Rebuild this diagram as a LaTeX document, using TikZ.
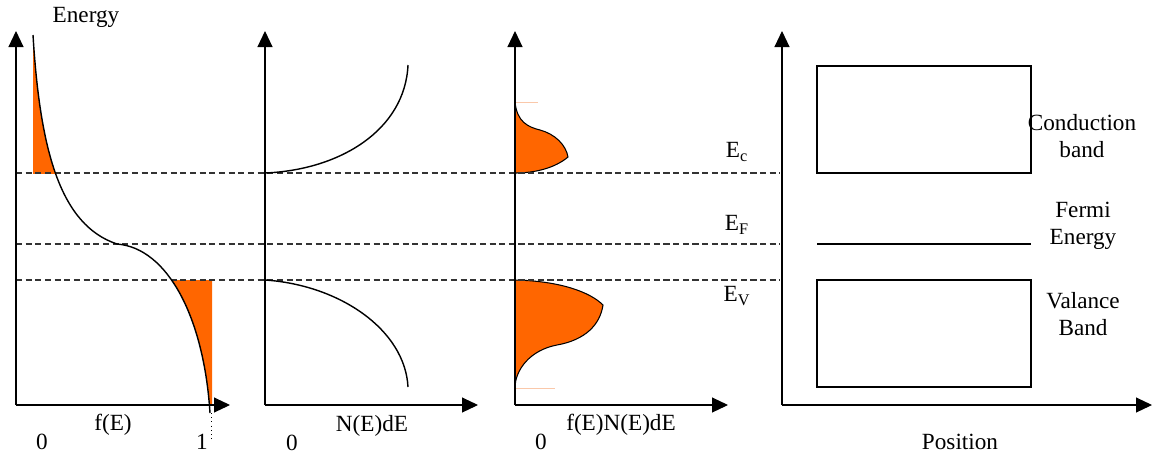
\documentclass[tikz,border=0pt]{standalone}
\usepackage{fontspec}
\newfontfamily\plotfont{LiberationSerif-Regular.ttf}
\definecolor{bandorange}{RGB}{255,102,0}
\definecolor{faintorange}{RGB}{250,200,170}
\usetikzlibrary{arrows.meta}

\begin{document}
\begin{tikzpicture}[x=0.02cm, y=-0.02cm,
  axis/.style={line width=0.6pt, -{Triangle[length=0.32cm, width=0.3cm]}},
  level/.style={dash pattern=on 3.5pt off 2pt, line width=0.6pt, black!80},
  curve/.style={line width=0.8pt},
  occupied/.style={fill=bandorange},
  lbl/.style={font=\plotfont\fontsize{13.2}{15.3}\selectfont, inner sep=0pt, align=center}
]
  \useasboundingbox (0,0) rectangle (1152,454);

  % origins of the four panels
  \coordinate (o1) at (16,405);
  \coordinate (o2) at (265,405);
  \coordinate (o3) at (515,405);
  \coordinate (o4) at (782,405);
  \coordinate (t1) at (16,31);
  \coordinate (t2) at (265,31);
  \coordinate (t3) at (515,31);
  \coordinate (t4) at (782,31);
  \coordinate (r1) at (230,405);
  \coordinate (r2) at (478,405);
  \coordinate (r3) at (728,405);
  \coordinate (r4) at (1152,405);

  % f(E) shading
  \begin{scope}
    \clip (16,31) rectangle (260,173);
    \fill[occupied] (33,35) .. controls (40,150) and (60,225) .. (117,244) -- (33,244) -- cycle;
  \end{scope}
  \begin{scope}
    \clip (16,280) rectangle (260,405);
    \fill[occupied] (117,244) .. controls (168,248) and (204,318) .. (210,413) -- (212,413) -- (212,244) -- cycle;
  \end{scope}

  % f(E)N(E)dE shading
  \fill[occupied, draw=black, line width=0.6pt] (515,102) .. controls (517,122) and (528,127) .. (540,130)
    .. controls (555,134) and (566,145) .. (568,157)
    .. controls (555,168) and (535,173) .. (515,173) -- cycle;
  \fill[occupied, draw=black, line width=0.6pt] (515,280) .. controls (560,281) and (590,292) .. (603,305)
    .. controls (600,325) and (585,340) .. (557,345)
    .. controls (530,350) and (515,370) .. (515,388) -- cycle;
  \draw[faintorange, line width=0.5pt] (515,102) -- (538,102);
  \draw[faintorange, line width=0.5pt] (515,388) -- (555,388);

  % energy levels
  \draw[level] (16,173) -- (780,173);
  \draw[level] (16,244) -- (780,244);
  \draw[level] (16,280) -- (780,280);

  % axes
  \draw[axis] (o1) -- (t1);
  \draw[axis] (o1) -- (r1);
  \draw[axis] (o2) -- (t2);
  \draw[axis] (o2) -- (r2);
  \draw[axis] (o3) -- (t3);
  \draw[axis] (o3) -- (r3);
  \draw[axis] (o4) -- (t4);
  \draw[axis] (o4) -- (r4);

  % Fermi function
  \draw[curve] (33,35) .. controls (40,150) and (60,225) .. (117,244)
    .. controls (168,248) and (204,318) .. (210,413);
  \draw[dotted, line width=0.4pt] (211,413) -- (211,440);

  % density of states
  \draw[curve] (265,173) .. controls (340,170) and (405,130) .. (408,65);
  \draw[curve] (265,280) .. controls (340,285) and (405,330) .. (408,387);

  % band picture
  \draw[line width=0.6pt] (817,66) rectangle (1031,173);
  \draw[line width=0.6pt] (817,280) rectangle (1031,387);
  \draw[line width=0.6pt] (817,244) -- (1031,244);

  % labels
  \node[lbl] (energy) at (86,17) {Energy};
  \node[lbl] (fe) at (113,425) {f(E)};
  \node[lbl] (zeroa) at (42,442) {0};
  \node[lbl] (one) at (202,442) {1};
  \node[lbl] (ne) at (372,426) {N(E)dE};
  \node[lbl] (zerob) at (292,443) {0};
  \node[lbl] (fne) at (621,425) {f(E)N(E)dE};
  \node[lbl] (zeroc) at (541,442) {0};
  \node[lbl] (ec) at (737,152) {E\textsubscript{c}};
  \node[lbl] (ef) at (737,225) {E\textsubscript{F}};
  \node[lbl] (ev) at (737,296) {E\textsubscript{V}};
  \node[lbl] (cond) at (1082,136) {Conduction\\band};
  \node[lbl] (fermi) at (1083,226) {Fermi\\Energy};
  \node[lbl] (val) at (1083,314) {Valance\\Band};
  \node[lbl] (pos) at (960,442) {Position};
\end{tikzpicture}
\end{document}
